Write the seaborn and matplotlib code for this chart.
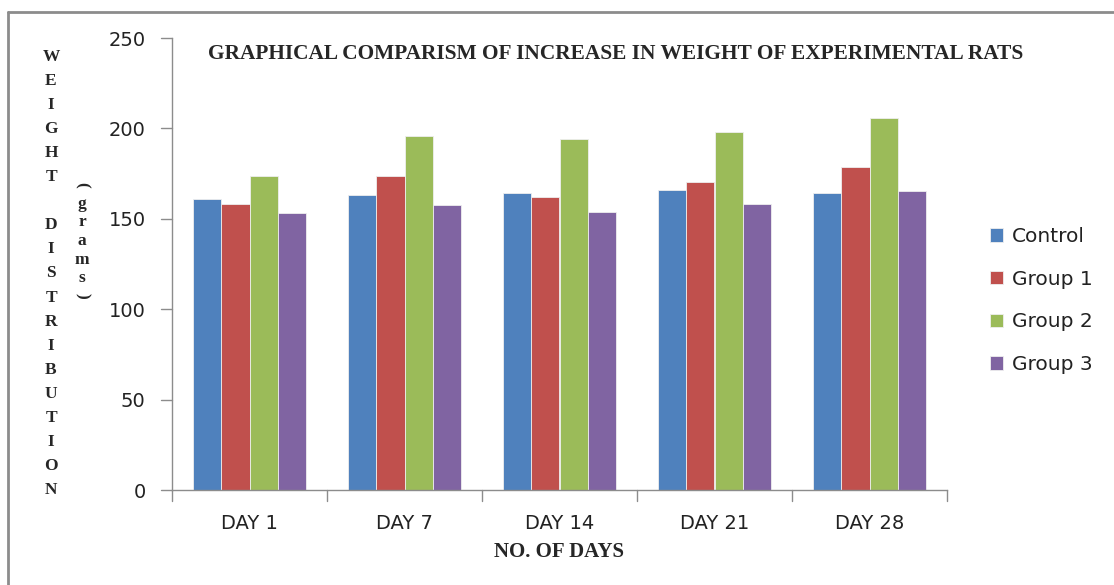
import matplotlib
matplotlib.use("Agg")
import matplotlib.pyplot as plt
import seaborn as sns
import pandas as pd
from matplotlib.lines import Line2D

days = ["DAY 1", "DAY 7", "DAY 14", "DAY 21", "DAY 28"]
groups = ["Control", "Group 1", "Group 2", "Group 3"]
control = [161, 163, 164.5, 166, 164.5]
group1 = [158, 173.5, 162, 170.5, 178.5]
group2 = [173.5, 196, 194, 198, 206]
group3 = [153, 157.5, 154, 158, 165.5]
yticks = [0, 50, 100, 150, 200, 250]
colors = ["#4F81BD", "#C0504D", "#9BBB59", "#8064A2"]

series = {"Control": control, "Group 1": group1, "Group 2": group2, "Group 3": group3}
rows = []
for g in groups:
    for d, v in zip(days, series[g]):
        rows.append({"day": d, "group": g, "value": v})
df = pd.DataFrame(rows)

sns.set_theme(style="white")
body_font = ["DejaVu Sans"]
serif_font = ["Liberation Serif", "DejaVu Serif"]

fig = plt.figure(figsize=(11.14, 5.85), dpi=100)
ax = fig.add_axes([172 / 1114, 1 - 490 / 585, (947 - 172) / 1114, (490 - 38) / 585])

sns.barplot(data=df, x="day", y="value", hue="group", order=days, hue_order=groups,
            palette=colors, width=0.735, ax=ax, errorbar=None, saturation=1,
            edgecolor="#eeeeee", linewidth=0.6)

ax.set_ylim(0, 250)
ax.set_xlim(-0.5, len(days) - 0.5)
ax.set_yticks(yticks)
ax.set_yticklabels([str(t) for t in yticks], family=body_font, fontsize=14, color="#222222")
ax.set_xticks(range(len(days)))
ax.set_xticklabels(days, family=body_font, fontsize=14, color="#222222")
ax.tick_params(axis="x", length=0, pad=17)
ax.tick_params(axis="y", length=0, pad=19)
ax.set_xlabel("")
ax.set_ylabel("")
for s in ["top", "right"]:
    ax.spines[s].set_visible(False)
for s in ["left", "bottom"]:
    ax.spines[s].set_color("#8c8c8c")
    ax.spines[s].set_linewidth(1.0)

# y ticks outward (left) and x ticks at category boundaries (down)
for t in yticks:
    ax.add_line(Line2D([-0.5 - 11 / 155, -0.5], [t, t], color="#8c8c8c", lw=1.0, clip_on=False))
for b in range(len(days) + 1):
    ax.add_line(Line2D([b - 0.5, b - 0.5], [0, -11 / 1.808], color="#8c8c8c", lw=1.0, clip_on=False))

leg = ax.legend(loc="center left", bbox_to_anchor=(972 / 1114, 1 - 300.5 / 585),
                bbox_transform=fig.transFigure, frameon=False,
                prop={"family": body_font, "size": 14.5},
                handlelength=0.65, handleheight=0.65, handletextpad=0.45,
                labelspacing=1.18)
for txt in leg.get_texts():
    txt.set_color("#222222")

fig.text(616 / 1114, 1 - 54 / 585,
         "GRAPHICAL COMPARISM OF INCREASE IN WEIGHT OF EXPERIMENTAL RATS",
         ha="center", va="center", family=serif_font, fontweight="bold", fontsize=15.4)
fig.text(559 / 1114, 1 - 552 / 585, "NO. OF DAYS", ha="center", va="center",
         family=serif_font, fontweight="bold", fontsize=15)

ylab = "WEIGHT DISTRIBUTION"
ystart, ystep = 57, 24.05
for i, ch in enumerate(ylab):
    if ch != " ":
        fig.text(51 / 1114, 1 - (ystart + i * ystep) / 585, ch, ha="center", va="center",
                 family=serif_font, fontweight="bold", fontsize=12.5)

grams = "grams"
fig.text(82 / 1114, 1 - 185 / 585, "(", ha="center", va="center", rotation=-90,
         rotation_mode="anchor", family=serif_font, fontweight="bold", fontsize=12.5)
for i, ch in enumerate(grams):
    fig.text(82 / 1114, 1 - (204 + i * 18.5) / 585, ch, ha="center", va="center",
             family=serif_font, fontweight="bold", fontsize=12.5)
fig.text(82 / 1114, 1 - 296 / 585, ")", ha="center", va="center", rotation=-90,
         rotation_mode="anchor", family=serif_font, fontweight="bold", fontsize=12.5)

# frame lines of the chart area (top and left)
fig.add_artist(Line2D([8 / 1114, 8 / 1114], [0, 1 - 12 / 585], color="#8c8c8c", lw=2,
                      transform=fig.transFigure))
fig.add_artist(Line2D([8 / 1114, 1], [1 - 12 / 585, 1 - 12 / 585], color="#8c8c8c", lw=2,
                      transform=fig.transFigure))

fig.savefig("out.png", dpi=100, facecolor="white")
